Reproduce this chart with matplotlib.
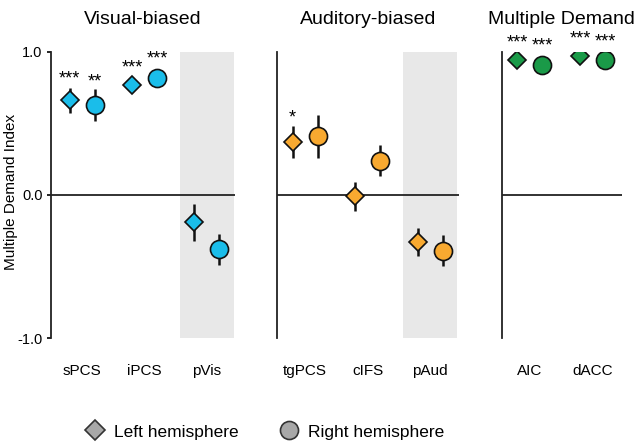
import matplotlib
matplotlib.use("Agg")
import matplotlib.pyplot as plt
from matplotlib.lines import Line2D

plt.rcParams['font.family'] = ['Liberation Sans', 'DejaVu Sans']

# ---- data ----
titles = ["Visual-biased", "Auditory-biased", "Multiple Demand"]
cats_vis = ["sPCS", "iPCS", "pVis"]
cats_aud = ["tgPCS", "cIFS", "pAud"]
cats_md = ["AIC", "dACC"]

left_vis = [0.66, 0.77, -0.19]
left_vis_err = [0.09, 0.03, 0.13]
right_vis = [0.63, 0.82, -0.38]
right_vis_err = [0.11, 0.03, 0.11]
stars_left_vis = ["***", "***", ""]
stars_right_vis = ["**", "***", ""]

left_aud = [0.37, -0.01, -0.33]
left_aud_err = [0.11, 0.10, 0.10]
right_aud = [0.41, 0.24, -0.39]
right_aud_err = [0.15, 0.11, 0.11]
stars_left_aud = ["*", "", ""]
stars_right_aud = ["", "", ""]

left_md = [0.94, 0.97]
left_md_err = [0.02, 0.02]
right_md = [0.91, 0.94]
right_md_err = [0.02, 0.02]
stars_left_md = ["***", "***"]
stars_right_md = ["***", "***"]

yticks = [-1.0, 0.0, 1.0]
ytick_labels = ["-1.0", "0.0", "1.0"]

colors = ["#1ABDEA", "#F8A930", "#1A9A48"]

fig = plt.figure(figsize=(6.4, 4.43), dpi=100)

panels = [
    (cats_vis, left_vis, left_vis_err, right_vis, right_vis_err, stars_left_vis, stars_right_vis, True,
     [0.0797, 0.237, 0.2875, 0.646], (-0.5, 2.45)),
    (cats_aud, left_aud, left_aud_err, right_aud, right_aud_err, stars_left_aud, stars_right_aud, True,
     [0.433, 0.237, 0.284, 0.646], (-0.45, 2.46)),
    (cats_md, left_md, left_md_err, right_md, right_md_err, stars_left_md, stars_right_md, False,
     [0.784, 0.237, 0.1875, 0.646], (-0.45, 1.47)),
]

off = 0.2
for i, (cats, lv, le, rv, re, sl, sr, shade, rect, xl) in enumerate(panels):
    ax = fig.add_axes(rect)
    ax.set_xlim(*xl)
    ax.set_ylim(-1, 1)
    for s in ["top", "right", "bottom"]:
        ax.spines[s].set_visible(False)
    ax.spines["left"].set_linewidth(1.3)
    ax.spines["left"].set_color("#222222")
    ax.axhline(0, color="#222222", lw=1.3, zorder=1)
    if shade:
        n = len(cats)
        ax.axvspan(n - 1 - 0.43, n - 1 + 0.43, color="#E8E8E8", zorder=0, lw=0)
    xs = list(range(len(cats)))
    col = colors[i]
    for x, v, e, st in zip(xs, lv, le, sl):
        ax.errorbar(x - off, v, yerr=e, fmt="D", color="#111111", mfc=col, mec="#111111",
                    ms=9, mew=1.2, elinewidth=1.8, capsize=0, zorder=3)
        if st:
            ax.text(x - off, v + max(e, 0.06) + 0.06, st, ha="center", va="center",
                    fontsize=13, clip_on=False)
    for x, v, e, st in zip(xs, rv, re, sr):
        ax.errorbar(x + off, v, yerr=e, fmt="o", color="#111111", mfc=col, mec="#111111",
                    ms=13, mew=1.2, elinewidth=1.8, capsize=0, zorder=3)
        if st:
            ax.text(x + off, v + max(e, 0.08) + 0.05, st, ha="center", va="center",
                    fontsize=13, clip_on=False)
    ax.set_xticks(xs)
    ax.set_xticklabels(cats, fontsize=11)
    ax.tick_params(axis="x", length=0, pad=19)
    if i == 0:
        ax.set_yticks(yticks)
        ax.set_yticklabels(ytick_labels, fontsize=10.5)
        ax.tick_params(axis="y", length=3, width=1.2, pad=3)
    else:
        ax.set_yticks([])
    ax.set_title(titles[i], fontsize=14, pad=20)

fig.text(0.017, 0.567, "Multiple Demand Index", rotation=90, ha="center", va="center",
         fontsize=11)

handles = [
    Line2D([], [], marker="D", ls="none", mfc="#A8A8A8", mec="#333333", ms=10, mew=1.2),
    Line2D([], [], marker="o", ls="none", mfc="#A8A8A8", mec="#333333", ms=13, mew=1.2),
]
fig.legend(handles, ["Left hemisphere", "Right hemisphere"], loc="center",
           bbox_to_anchor=(0.414, 0.025), ncol=2, frameon=False, fontsize=12.5,
           columnspacing=2.4, handlelength=1.0, handletextpad=0.6)

fig.savefig("out.png", dpi=100)
